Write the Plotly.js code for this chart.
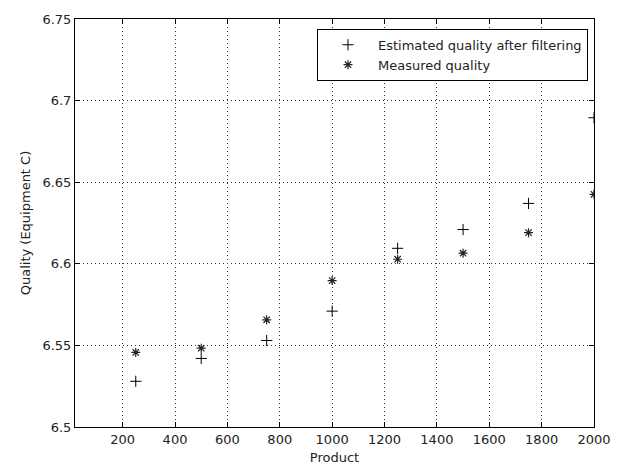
<!DOCTYPE html>
<html>
<head>
<meta charset="utf-8">
<script src="https://cdn.plot.ly/plotly-3.0.1.min.js"></script>
<style>html,body{margin:0;padding:0;background:#fff;}#chart{width:621px;height:468px;}</style>
</head>
<body>
<div id="chart"></div>
<script>
var products = [250, 500, 750, 1000, 1250, 1500, 1750, 2000];
var estimatedQuality = [6.528, 6.542, 6.553, 6.571, 6.6095, 6.621, 6.637, 6.6895];
var measuredQuality = [6.5457, 6.5483, 6.5657, 6.5897, 6.6028, 6.6065, 6.6191, 6.6426];
var xTickVals = [200, 400, 600, 800, 1000, 1200, 1400, 1600, 1800, 2000];
var yTickVals = [6.5, 6.55, 6.6, 6.65, 6.7, 6.75];
var yTickText = ['6.5', '6.55', '6.6', '6.65', '6.7', '6.75'];

var fontFam = 'DejaVu Sans, sans-serif';
var txtColor = '#222';
var traces = [
  {x: products, y: estimatedQuality, mode: 'markers', type: 'scatter',
   name: 'Estimated quality after filtering',
   marker: {symbol: 'cross-thin-open', size: 8, color: '#000', line: {width: 1, color: '#000'}}},
  {x: products, y: measuredQuality, mode: 'markers', type: 'scatter',
   name: 'Measured quality',
   marker: {symbol: 'asterisk-open', size: 7.5, color: '#222', line: {width: 1.2, color: '#222'}}}
];
var axCommon = {
  showline: true, linecolor: '#000', linewidth: 1, mirror: 'allticks',
  ticks: 'inside', ticklen: 5, tickcolor: '#000', tickwidth: 1,
  showgrid: true, gridcolor: '#333', griddash: '1px,3px', gridwidth: 1,
  zeroline: false, tickfont: {family: fontFam, size: 13, color: txtColor}
};
var layout = {
  width: 621, height: 468,
  margin: {l: 75, r: 27, t: 19, b: 41},
  paper_bgcolor: '#fff', plot_bgcolor: '#fff',
  showlegend: true,
  legend: {x: 0.9884, y: 0.976, xanchor: 'right', yanchor: 'top',
    bgcolor: '#fff', bordercolor: '#000', borderwidth: 1, itemwidth: 50,
    font: {family: fontFam, size: 13, color: txtColor}, tracegroupgap: 0},
  xaxis: Object.assign({}, axCommon, {
    range: [18, 2000], tickmode: 'array', tickvals: xTickVals,
    title: {text: 'Product', font: {family: fontFam, size: 13, color: txtColor}, standoff: 7}
  }),
  yaxis: Object.assign({}, axCommon, {
    range: [6.5, 6.75], tickmode: 'array', tickvals: yTickVals, ticktext: yTickText,
    title: {text: 'Quality (Equipment C)', font: {family: fontFam, size: 13, color: txtColor}, standoff: 8}
  })
};
Plotly.newPlot('chart', traces, layout, {displayModeBar: false, staticPlot: true});
</script>
</body>
</html>
